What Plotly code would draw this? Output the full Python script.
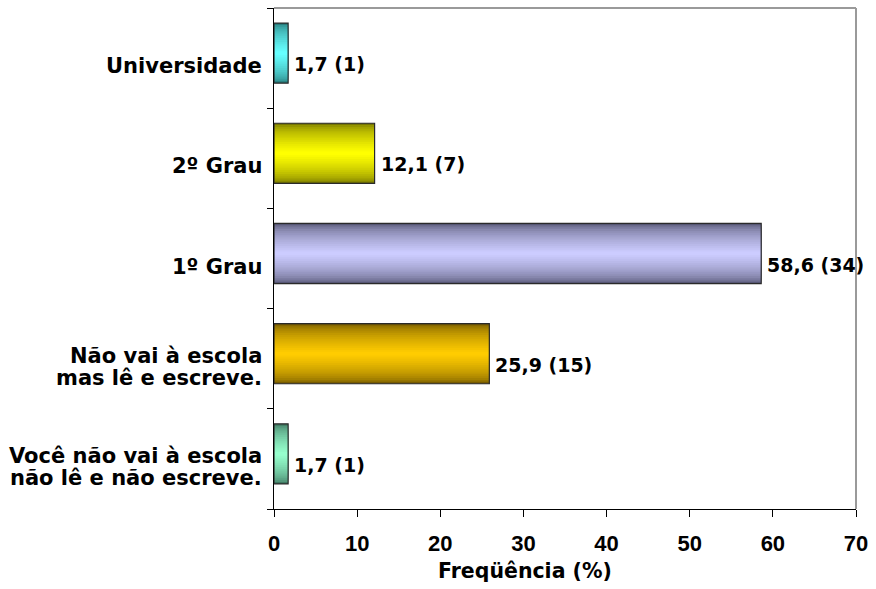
import plotly.graph_objects as go

# Education level of respondents (bottom to top)
categories = [
    "Você não vai à escola<br>não lê e não escreve.",
    "Não vai à escola<br>mas lê e escreve.",
    "1º Grau",
    "2º Grau",
    "Universidade",
]
percent = [1.7, 25.9, 58.6, 12.1, 1.7]
counts = [1, 15, 34, 7, 1]
x_ticks = [0, 10, 20, 30, 40, 50, 60, 70]

# Edge (dark) and centre (light) colours of each cylinder-shaded bar
edge_colors = [(62, 118, 96), (118, 90, 0), (86, 86, 116), (118, 118, 0), (38, 122, 122)]
center_colors = [(150, 255, 205), (255, 204, 0), (204, 204, 255), (255, 255, 0), (102, 255, 255)]

labels = [f"{p:.1f}".replace(".", ",") + f" ({n})" for p, n in zip(percent, counts)]

BAR_W = 0.6
BAR_SHIFT = 0.05          # bars sit slightly above the band centre
N_LAYERS = 16
WIDE = "DejaVu Sans, sans-serif"
NARROW = "Liberation Sans, Arial, sans-serif"

fig = go.Figure()

# Shading: stacked overlays of narrower, lighter bars
for k in range(N_LAYERS):
    t = k / (N_LAYERS - 1)
    s = t ** 0.55
    cols = []
    for e, c in zip(edge_colors, center_colors):
        rgb = tuple(round(e[i] + (c[i] - e[i]) * s) for i in range(3))
        cols.append(f"rgb{rgb}")
    w = BAR_W * (1 - k / N_LAYERS)
    fig.add_trace(go.Bar(
        y=categories, x=percent, orientation="h",
        width=[w] * len(categories), offset=[-w / 2 + BAR_SHIFT] * len(categories),
        marker=dict(color=cols, line=dict(width=0)),
        hoverinfo="skip", showlegend=False,
    ))

# Outline of each bar
fig.add_trace(go.Bar(
    y=categories, x=percent, orientation="h",
    width=[BAR_W] * len(categories), offset=[-BAR_W / 2 + BAR_SHIFT] * len(categories),
    marker=dict(color="rgba(0,0,0,0)", line=dict(color="#2a2a2a", width=1.2)),
    showlegend=False,
))

annotations = []
# Category labels, one annotation per text line
for i, cat in enumerate(categories):
    lines = cat.split("<br>")
    n = len(lines)
    for j, line in enumerate(lines):
        annotations.append(dict(
            x=0, xref="paper", y=i, yref="y", text=line, showarrow=False,
            xanchor="right", yanchor="middle", xshift=-10,
            yshift=-8 - (j - (n - 1) / 2) * 22,
            font=dict(family=WIDE, size=21, color="black", weight="bold"),
        ))
# Value labels next to the bar ends
for i, (p, lab) in enumerate(zip(percent, labels)):
    annotations.append(dict(
        x=p, xref="x", y=i, yref="y", text=lab, showarrow=False,
        xanchor="left", yanchor="middle", xshift=4, yshift=-6,
        font=dict(family=WIDE, size=19, color="black", weight="bold"),
    ))
# Axis title
annotations.append(dict(
    x=0.431, xref="paper", y=0, yref="paper", text="Freqüência (%)",
    showarrow=False, xanchor="center", yanchor="middle", yshift=-62,
    font=dict(family=WIDE, size=20.5, color="black", weight="bold"),
))

fig.update_layout(
    width=876, height=589,
    margin=dict(l=274, r=20, t=8, b=80),
    paper_bgcolor="white", plot_bgcolor="white",
    barmode="overlay",
    annotations=annotations,
    xaxis=dict(
        range=[0, 70], tickvals=x_ticks, showgrid=False, zeroline=False,
        showline=True, linecolor="black", linewidth=1,
        ticks="outside", ticklen=7, tickcolor="black",
        tickfont=dict(family=NARROW, size=22, color="black", weight="bold"),
        ticklabelstandoff=8,
    ),
    yaxis=dict(
        type="category", range=[-0.5, 4.5],
        showgrid=False, zeroline=False, showticklabels=False,
        showline=True, linecolor="black", linewidth=1,
        ticks="outside", ticklen=6, tickcolor="black", tickson="boundaries",
    ),
)

# Grey frame on the top and right of the plot area
fig.add_shape(type="line", xref="paper", yref="paper", x0=0, x1=1, y0=1, y1=1,
              line=dict(color="#9a9a9a", width=2))
fig.add_shape(type="line", xref="paper", yref="paper", x0=1, x1=1, y0=0, y1=1,
              line=dict(color="#9a9a9a", width=2))

fig.write_html("out.html")
